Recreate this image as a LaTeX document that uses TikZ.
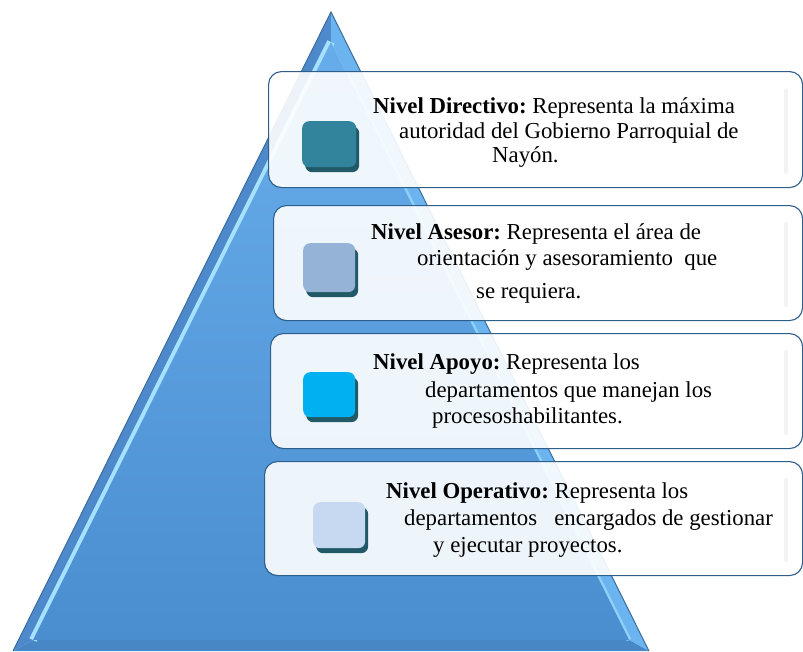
\documentclass[tikz,border=0pt]{standalone}
\usepackage{fontspec}
\setmainfont{Liberation Serif}
\usetikzlibrary{calc}
\definecolor{pyrtop}{HTML}{68ADEB}
\definecolor{pyrbot}{HTML}{4A8ED0}
\definecolor{pyredge}{HTML}{3A6D9E}
\definecolor{bevelL}{HTML}{4E8ACB}
\definecolor{bevelR}{HTML}{6CB4F0}
\definecolor{bevelHi}{HTML}{A6E2FF}
\definecolor{bevelB}{HTML}{4887C6}
\definecolor{boxedge}{HTML}{2E5E8C}
\definecolor{sqA}{HTML}{31849B}
\definecolor{sqB}{HTML}{95B3D7}
\definecolor{sqC}{HTML}{00B0F0}
\definecolor{sqD}{HTML}{C6D9F1}
\definecolor{sqshadow}{HTML}{215967}
\definecolor{barcol}{HTML}{F3F3F3}
\tikzset{
  levelbox/.style={draw=boxedge, line width=1.1pt, rounded corners=13pt, fill=white,
    fill opacity=0.9, text opacity=1, anchor=north west, inner sep=0pt},
  sqbase/.style={rounded corners=7pt, anchor=north west, inner sep=0pt,
    minimum width=#1},
  sqshade/.style={fill=sqshadow, rounded corners=7pt, anchor=north west, inner sep=0pt},
  lvltext/.style={anchor=base west, inner sep=0pt, text=black,
    font=\fontsize{22.8}{27}\selectfont},
  rbar/.style={barcol, line width=4pt, line cap=round}
}
\begin{document}
\frenchspacing
\begin{tikzpicture}[x=1pt,y=-1pt]
\useasboundingbox (0,0) rectangle (803,651);
% pyramid
\coordinate (A) at (331,12);
\coordinate (B) at (13,651);
\coordinate (C) at (649,651);
\coordinate (a) at (331,42);
\coordinate (b) at (33,640);
\coordinate (c) at (629,640);
\fill[bevelL] (A)--(B)--(b)--(a)--cycle;
\fill[bevelR] (A)--(C)--(c)--(a)--cycle;
\fill[bevelB] (B)--(C)--(c)--(b)--cycle;
\draw[bevelHi, line width=8pt] (a)--(b);
\draw[bevelHi!60!bevelR, line width=5pt] ($(a)!0.05!(c)$)--($(c)$);
\shade[top color=pyrtop, bottom color=pyrbot] (a)--(b)--(c)--cycle;
\draw[pyredge, line width=1pt, line join=miter] (B)--(A)--(C);
% level boxes
\node[levelbox, minimum width=534pt, minimum height=116pt] (b1) at (268,71) {};
\node[levelbox, minimum width=529pt, minimum height=115pt] (b2) at (273,205) {};
\node[levelbox, minimum width=532pt, minimum height=115pt] (b3) at (270,333) {};
\node[levelbox, minimum width=538pt, minimum height=114pt] (b4) at (264,461) {};
\draw[rbar] (786,90)--(786,172);
\draw[rbar] (786,224)--(786,305);
\draw[rbar] (786,352)--(786,433);
\draw[rbar] (786,480)--(786,560);
% squares with shadows
\node[sqshade, minimum width=54pt, minimum height=46pt] (s1s) at (305,126) {};
\node[sqbase=54pt, fill=sqA, minimum height=46pt] (s1) at (302,121) {};
\node[sqshade, minimum width=52pt, minimum height=49pt] (s2s) at (306,248) {};
\node[sqbase=52pt, fill=sqB, minimum height=49pt] (s2) at (303,243) {};
\node[sqshade, minimum width=52pt, minimum height=45pt] (s3s) at (306,377) {};
\node[sqbase=52pt, fill=sqC, minimum height=45pt] (s3) at (303,372) {};
\node[sqshade, minimum width=52pt, minimum height=46pt] (s4s) at (316,507) {};
\node[sqbase=52pt, fill=sqD, minimum height=46pt] (s4) at (313,502) {};
% texts
\node[lvltext] (t11) at (373,113) {\textbf{Nivel Directivo:} Representa la máxima};
\node[lvltext] (t12) at (399,138) {autoridad del Gobierno Parroquial de};
\node[lvltext] (t13) at (492,162) {Nayón.};
\node[lvltext] (t21) at (371,239) {\textbf{Nivel Asesor:} Representa el área de};
\node[lvltext] (t22) at (417,265) {orientación y asesoramiento\ \ que};
\node[lvltext] (t23) at (476,298) {se requiera.};
\node[lvltext] (t31) at (373,369) {\textbf{Nivel Apoyo:} Representa los};
\node[lvltext] (t32) at (425,397) {departamentos que manejan los};
\node[lvltext] (t33) at (432,423) {procesoshabilitantes.};
\node[lvltext] (t41) at (386,498) {\textbf{Nivel Operativo:} Representa los};
\node[lvltext] (t42) at (404,525) {departamentos\ \ \ encargados de gestionar};
\node[lvltext] (t43) at (433,552) {y ejecutar proyectos.};
\end{tikzpicture}
\end{document}
